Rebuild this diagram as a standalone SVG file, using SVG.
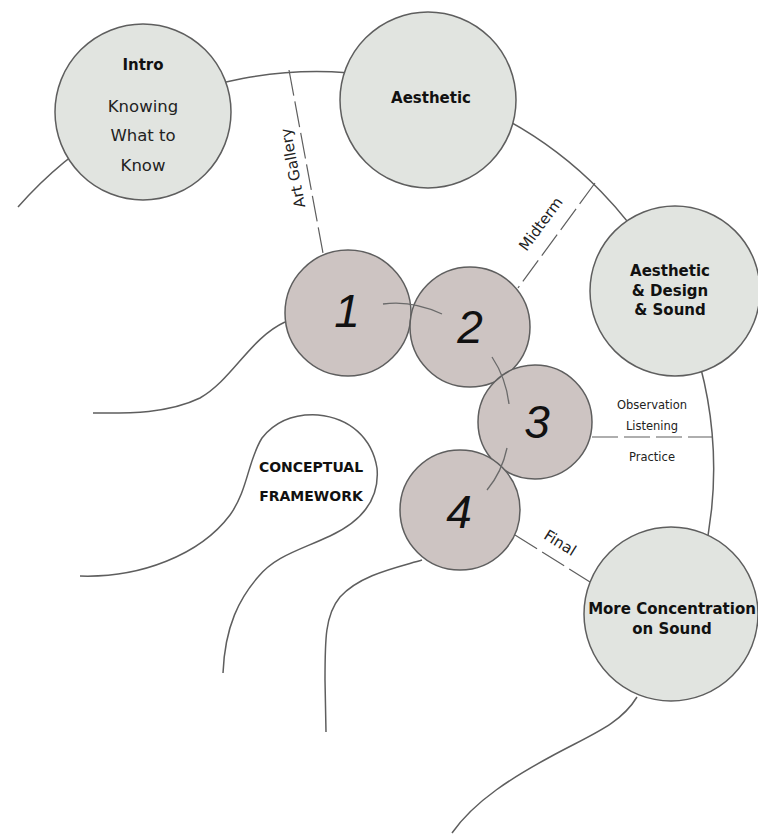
<svg xmlns="http://www.w3.org/2000/svg" width="758" height="834" viewBox="0 0 758 834">
<style>
.ln{fill:none;stroke:#5e5e5e;stroke-width:1.5}
.dash{fill:none;stroke:#5e5e5e;stroke-width:1.2;stroke-dasharray:26 6}
.big{fill:#e1e4e0;stroke:#5e5e5e;stroke-width:1.5}
.sm{fill:#cdc4c2;stroke:#5e5e5e;stroke-width:1.5}
.lnk{fill:none;stroke:#6a6a6a;stroke-width:1.3}
.b{font-family:"DejaVu Sans",sans-serif;font-weight:bold;font-size:15px;fill:#111;text-anchor:middle}
.r{font-family:"DejaVu Sans",sans-serif;font-size:16.5px;fill:#222;text-anchor:middle}
.s{font-family:"DejaVu Sans",sans-serif;font-size:11.5px;fill:#222;text-anchor:middle}
.lab{font-family:"DejaVu Sans",sans-serif;font-size:15px;fill:#222;text-anchor:middle;dominant-baseline:central}
.num{font-family:"Liberation Sans",sans-serif;font-style:italic;font-size:46px;fill:#111;text-anchor:middle;dominant-baseline:central}
</style>
<rect width="758" height="834" fill="#ffffff"/>
<g id="connectors">
<path class="ln" d="M18,207 A397,397 0 0 1 703,560"/>
<path class="ln" d="M285,322 C250,338 232,380 200,398 C165,415 120,413 93,413"/>
<path class="ln" d="M422,560 C395,568 360,575 340,597 C325,615 325,640 325,680 L326,732"/>
<path class="ln" d="M637,697 C620,725 590,735 550,757 C515,776 475,800 452,833"/>
<line class="dash" x1="289" y1="70" x2="323" y2="253"/>
<line class="dash" x1="595" y1="183" x2="518" y2="288"/>
<line class="dash" x1="592" y1="437" x2="713" y2="437"/>
<line class="dash" x1="515" y1="535" x2="590" y2="582"/>
<text class="lab" transform="translate(293,168) rotate(-100.5)">Art Gallery</text>
<text class="lab" transform="translate(541,224) rotate(-53.7)">Midterm</text>
<text class="lab" transform="translate(560,543) rotate(32)">Final</text>
<text class="s" x="652" y="409">Observation</text>
<text class="s" x="652" y="430">Listening</text>
<text class="s" x="652" y="461">Practice</text>
</g>
<g id="intro">
<circle class="big" cx="143" cy="112" r="88"/>
<text class="b" x="143" y="70">Intro</text>
<text class="r" x="143" y="112">Knowing</text>
<text class="r" x="143" y="141">What to</text>
<text class="r" x="143" y="171">Know</text>
</g>
<g id="aesthetic">
<circle class="big" cx="428" cy="100" r="88"/>
<text class="b" x="431" y="103">Aesthetic</text>
</g>
<g id="aesthetic-design-sound">
<circle class="big" cx="675" cy="291" r="85"/>
<text class="b" x="670" y="276">Aesthetic</text>
<text class="b" x="670" y="296">&amp; Design</text>
<text class="b" x="670" y="315">&amp; Sound</text>
</g>
<g id="more-concentration">
<circle class="big" cx="671" cy="614" r="87"/>
<text class="b" x="672" y="614">More Concentration</text>
<text class="b" x="672" y="634">on Sound</text>
</g>
<g id="conceptual-framework">
<path class="ln" d="M80,576 C140,578 200,555 230,515 C248,490 248,460 262,438 C278,418 300,414 318,415 C350,418 372,438 377,468 C380,500 360,522 330,536 C300,550 275,556 258,577 C240,598 225,625 223,673"/>
<text class="b" x="311" y="472" style="font-size:14px">CONCEPTUAL</text>
<text class="b" x="311" y="501" style="font-size:14px">FRAMEWORK</text>
</g>
<g id="step1">
<circle class="sm" cx="348" cy="313" r="63"/>
</g>
<g id="step2">
<circle class="sm" cx="470" cy="327" r="60"/>
</g>
<g id="step3">
<circle class="sm" cx="535" cy="422" r="57"/>
</g>
<g id="step4">
<circle class="sm" cx="460" cy="510" r="60"/>
</g>
<g id="step-links">
<path class="lnk" d="M383,304 Q412,300 442,314"/>
<path class="lnk" d="M492,357 Q506,378 509,404"/>
<path class="lnk" d="M507,448 Q502,472 487,490"/>
</g>
<g id="step-labels">
<text class="num" x="347" y="311">1</text>
<text class="num" x="470" y="327">2</text>
<text class="num" x="537" y="422">3</text>
<text class="num" x="459" y="512">4</text>
</g>
</svg>
